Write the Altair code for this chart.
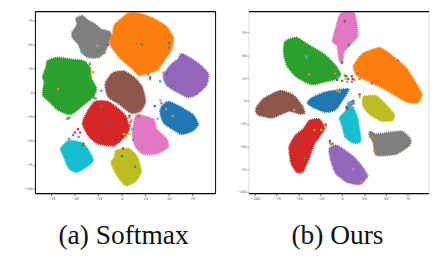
import altair as alt
import pandas as pd

COLORS = {"blue": "#1f77b4", "orange": "#ff7f0e", "green": "#2ca02c", "red": "#d62728", "purple": "#9467bd",
          "brown": "#8c564b", "pink": "#e377c2", "gray": "#7f7f7f", "olive": "#bcbd22", "cyan": "#17becf"}

# Softmax cluster outlines
a_gray_x = [-48.9,-42,-36.4,-28.8,-21.9,-13.2,-11.5,-15.6,-18.4,-25.3,-35.7,-42.7,-46.2,-52.4,-53.1,-47.9]
a_gray_y = [77.3,80,75.6,71.5,66.1,63.7,58.6,48.5,41.7,36.6,36.6,41.7,50.2,57,62.7,70.5]
a_orange_x = [7.6,19.8,33.7,47.5,54.5,52.7,45.8,37.1,25,18,9.4,-1,-8,-13.2,-9.7,-8,0.7]
a_orange_y = [83,82.4,77.3,68.8,57,45.1,34.9,23.1,19.7,18,26.4,34.9,43.4,51.9,62,70.5,78.3]
a_purple_x = [63.2,71.8,82.2,92,89.9,78.8,70.1,58,47.5,44.1,52.7,59.7]
a_purple_y = [40.7,36.6,29.8,19.7,7.8,-2.4,-4.7,1,7.8,18,29.8,34.9]
a_green_x = [-79.1,-68.7,-54.8,-40.9,-34,-32.3,-27.1,-30.5,-42.7,-54.8,-68.7,-77.4,-84.3,-82.6,-84.3,-80.9]
a_green_y = [33.2,36.6,34.9,33.2,26.4,14.6,4.4,-4.1,-14.2,-22.7,-17.6,-9.2,-2.4,11.2,16.3,26.4]
a_brown_x = [-9.7,2.4,12.8,21.5,25,19.8,9.4,-4.5,-14.9,-17.7]
a_brown_y = [20.7,22.4,16.3,6.1,-9.2,-19.3,-21,-10.8,-4.1,9.5]
a_red_x = [-28.8,-14.9,-2.8,4.2,7.6,2.4,-8,-25.3,-35.7,-42,-37.5]
a_red_y = [-9.2,-9.2,-17.6,-24.4,-38,-46.4,-54.9,-53.2,-44.7,-32.2,-21]
a_blue_x = [49.3,61.4,75.3,81.2,75.3,63.2,51,44.1,40.6,42.3]
a_blue_y = [-9.2,-14.2,-22.7,-32.9,-39.7,-43.1,-36.3,-31.2,-21,-14.2]
a_pink_x = [16.3,33.7,37.1,47.5,49.3,37.1,23.2,14.6,11.1,12.8]
a_pink_y = [-22.7,-27.8,-38,-48.1,-56.6,-63.4,-64.1,-56.6,-44.7,-31.2]
a_olive_x = [-6.2,7.6,16.3,20.5,14.6,4.2,-4.5,-11.5,-8]
a_olive_y = [-60,-58.3,-66.8,-82,-92.2,-96.6,-87.1,-73.6,-66.8]
a_cyan_x = [-56.6,-44.4,-37.5,-30.5,-37.5,-47.9,-56.6,-61.8,-65.2]
a_cyan_y = [-49.8,-51.5,-56.6,-70.2,-77,-82.7,-78.6,-66.8,-58.3]

# Ours cluster outlines
b_pink_x = [-1.9,13.1,16.8,17.5,9.3,1.9,0,-3.7,-5.6,-11.2,-7.5]
b_pink_y = [95.7,97.5,85,70.7,61.8,52.8,40.3,45.7,60,65.3,79.6]
b_green_x = [-65.3,-52.2,-39.2,-20.5,-7.5,-1.9,-5.6,-20.5,-35.4,-52.2,-63.4,-67.1]
b_green_y = [65.3,69.6,61.8,51,38.6,29.6,24.3,20.7,17.9,26.1,38.6,52.8]
b_orange_x = [24.2,42.9,57.8,72.7,83.9,91.4,85.8,72.7,50.4,31.7,16.8,13.1]
b_orange_y = [52.1,58.2,49.3,36.8,20.7,6.4,-2.5,-0.7,11.8,20.7,27.8,38.6]
b_brown_x = [-89.5,-70.9,-56,-46.6,-42.9,-48.5,-61.5,-80.2,-97,-98.8]
b_brown_y = [2.9,11.1,6.4,-4.3,-13.2,-14.3,-11.4,-18.6,-15,-7.9]
b_blue_x = [-20.5,-5.6,7.5,1.9,-7.5,-18.7,-31.7,-39.9,-35.4]
b_blue_y = [9.3,11.8,12.9,2.9,-9.6,-12.5,-7.9,-2.5,2.9]
b_olive_x = [24.2,39.2,50.4,59.7,57.8,44.8,31.7,24.2]
b_olive_y = [4.6,5.4,-4.3,-15,-21.4,-22.1,-15,-6.1]
b_cyan_x = [7.5,13.1,17.5,21.3,13.1,3.7,0,-3,3.7]
b_cyan_y = [-0.7,-7.9,-18.6,-43.6,-46.4,-40,-27.5,-18.6,-11.4]
b_red_x = [-37.3,-26.1,-20.5,-31.7,-37.3,-44.8,-52.2,-58.6,-60.8,-54.1,-44.8]
b_red_y = [-21.4,-20.3,-31.1,-47.1,-61.4,-77.5,-78.2,-68.5,-50.7,-38.2,-31.1]
b_purple_x = [-14.9,-5.6,13.1,24.2,29.1,20.5,5.6,-7.5,-13.1]
b_purple_y = [-52.5,-48.9,-61.4,-73.9,-82.8,-91.7,-89.3,-79.3,-65]
b_gray_x = [31.7,39.2,54.1,69,78.3,77.2,61.5,39.2,35.4,31]
b_gray_y = [-33.6,-36.4,-34.6,-33.6,-41.8,-48.9,-58.5,-59.6,-45.3,-38.2]

# Stray points: colour name, x, y
a_stray = [
 ("red",-46.8,-38),("red",-44.4,-41.4),("red",-50,-41.4),("red",-41,-53),("purple",-52,-44),("gray",-56,-48),
 ("cyan",-46,-46),("green",-42,-55),("orange",-30.5,21.4),("orange",-33,17),("green",-30,-5),("cyan",-22,2),
 ("brown",-12,-3),("green",21.5,50.2),("orange",-1,52),("cyan",-42.7,42.4),("red",-15,50),("pink",-26,49),
 ("orange",-18,42),("green",-26,44),("gray",-34,30),("olive",-34,31),("cyan",40.6,11.9),("green",53.8,7.1),
 ("orange",44,21),("blue",48,20),("orange",30,14),("blue",30,16),("gray",28,19),("purple",50,47),("blue",50,52),
 ("orange",47,-17),("blue",35,-14),("pink",41,-8),("purple",42,-11),("pink",38,-27),("orange",54,-24),
 ("red",8,-34),("red",8,-24),("olive",2.4,-43),("olive",4,-46),("pink",8,-26),("purple",9,-31),("blue",-12,-32),
 ("red",-25,-11),("green",-22,-14),("purple",-28,-6),("red",-30,-16),("green",-56,-26),("green",-58,-27),
 ("orange",-68,4),("cyan",12,-49),("red",1,-58),("blue",0,-66),("green",14,-77),("pink",20,-19),("gray",18,-24),
 ("olive",8,-43),("orange",10,-29),("cyan",11,-38),
]
b_stray = [
 ("pink",-1,60),("green",0,42),("olive",1,48),("cyan",7,62),("green",8,61),("gray",3,88),("brown",3,87),
 ("cyan",-41,49),("orange",-8,30),("red",-6,23),("orange",3,28),("gray",5,27),("blue",7,24),("red",11,27),
 ("purple",11,21),("orange",14,23),("olive",4,24),("green",4,27),("red",12,24),("orange",20,24),("gray",18,30),
 ("brown",0,22),("pink",6,21),("cyan",-5,26),("orange",20,27),("purple",34,19),("red",20,7),("olive",20,4),
 ("red",11,-1),("red",13,-3),("purple",10,-4),("blue",13,0),("pink",11,-7),("brown",6,-9),("purple",64,44),
 ("cyan",-41,47),("orange",-38,29),("orange",-32,-32),("brown",-22,-28),("red",-19,-26),("pink",-19,-29),
 ("olive",-24,-32),("green",-46,-7),("pink",-55,-10),("blue",-24,0),("orange",-6,11),("olive",-3,10),("red",5,-7),
 ("cyan",-14,-46),("orange",-13,-48),("brown",-14,-44),("green",-11,-47),("orange",22,-89),("pink",13,-75),
 ("orange",37,-55),("green",74,-50),("gray",33,-35),("orange",35,-40),("blue",-52,-44),("green",-43,-63),
]

A_CLUSTERS = [("blue",a_blue_x,a_blue_y),("green",a_green_x,a_green_y),("gray",a_gray_x,a_gray_y),("orange",a_orange_x,a_orange_y),
              ("purple",a_purple_x,a_purple_y),("brown",a_brown_x,a_brown_y),("red",a_red_x,a_red_y),("pink",a_pink_x,a_pink_y),
              ("olive",a_olive_x,a_olive_y),("cyan",a_cyan_x,a_cyan_y)]
B_CLUSTERS = [("blue",b_blue_x,b_blue_y),("green",b_green_x,b_green_y),("gray",b_gray_x,b_gray_y),("orange",b_orange_x,b_orange_y),
              ("purple",b_purple_x,b_purple_y),("brown",b_brown_x,b_brown_y),("red",b_red_x,b_red_y),("pink",b_pink_x,b_pink_y),
              ("olive",b_olive_x,b_olive_y),("cyan",b_cyan_x,b_cyan_y)]

A_XTICKS = [-75,-50,-25,0,25,50,75,100]
A_YTICKS = [-100,-75,-50,-25,0,25,50,75]
B_XTICKS = [-100,-75,-50,-25,0,25,50,75,100]
B_YTICKS = [-100,-75,-50,-25,0,25,50,75]


def panel(clusters, strays, xdom, ydom, xticks, yticks, caption, title_x, side_color, extent):
    xs = alt.Scale(domain=xdom, nice=False, zero=False)
    ys = alt.Scale(domain=ydom, nice=False, zero=False)
    axis_common = dict(labelFontSize=3.5, labelColor="#444444", tickSize=2, tickColor="#000000", tickWidth=0.6,
                       labelPadding=1, grid=False, domain=False, labelFont="DejaVu Sans", labelOverlap=False,
                       labelSeparation=0)
    xax = alt.Axis(values=xticks, title=caption, titleFont="Liberation Serif", titleFontSize=28, titleFontWeight="normal",
                   titleColor="#111111", titleX=title_x, titleY=29, titleAlign="center", labelFlush=False, **axis_common)
    yax = alt.Axis(values=yticks, title=None, minExtent=extent, maxExtent=extent, **axis_common)
    X = lambda f: alt.X(f, scale=xs, axis=xax, title=caption)
    Y = lambda f: alt.Y(f, scale=ys, axis=yax, title=None)
    layers = []
    for name, cx, cy in clusters:
        df = pd.DataFrame({"x": cx, "y": cy, "i": range(len(cx))})
        layers.append(alt.Chart(df).mark_line(color=COLORS[name], fill=COLORS[name], strokeWidth=2, strokeDash=[1, 1], clip=True,
                                              interpolate="cardinal-closed", tension=0.4).encode(
            x=X("x:Q"), y=Y("y:Q"), order="i:Q"))
    sdf = pd.DataFrame(strays, columns=["c", "x", "y"])
    sdf["color"] = sdf["c"].map(COLORS)
    layers.append(alt.Chart(sdf).mark_square(size=5, opacity=1).encode(
        x=X("x:Q"), y=Y("y:Q"), color=alt.Color("color:N", scale=None)))
    for v in xdom:
        layers.append(alt.Chart(pd.DataFrame({"v": [v]})).mark_rule(color=side_color, strokeWidth=1).encode(x=X("v:Q")))
    for v in ydom:
        layers.append(alt.Chart(pd.DataFrame({"v": [v]})).mark_rule(color="#000000", strokeWidth=1.3).encode(y=Y("v:Q")))
    return alt.layer(*layers).properties(width=184, height=186)


left = panel(A_CLUSTERS, a_stray, [-92, 99.6], [-105, 84.5], A_XTICKS, A_YTICKS, "(a) Softmax", 89.5, "#000000", 28)
right = panel(B_CLUSTERS, b_stray, [-107, 99.6], [-101.8, 98], B_XTICKS, B_YTICKS, "(b) Ours", 90, "#dddddd", 11)

chart = alt.hconcat(left, right, spacing=20).resolve_scale(x="independent", y="independent").properties(padding=0).configure_view(stroke=None)
chart.save("out.html", embed_options={"renderer": "svg", "actions": False})
